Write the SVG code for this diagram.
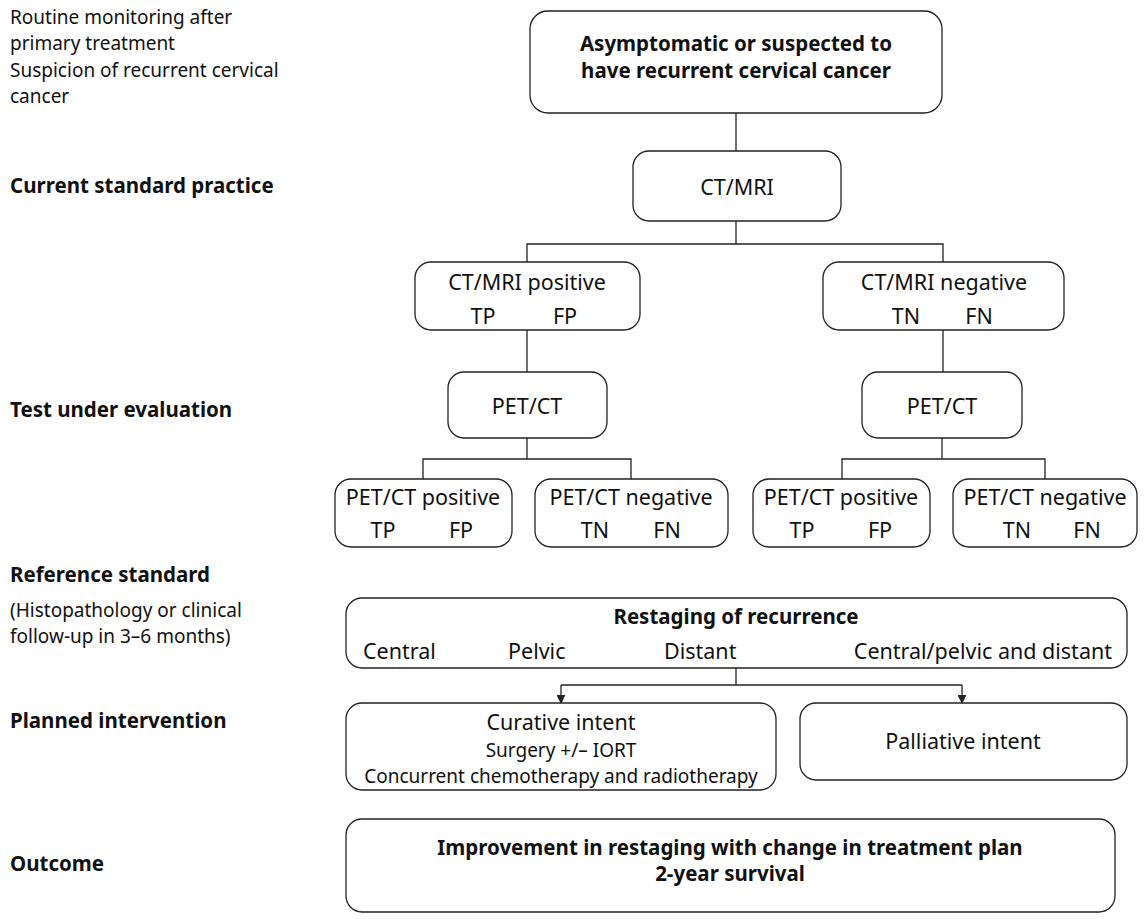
<svg xmlns="http://www.w3.org/2000/svg" width="1144" height="919" viewBox="0 0 1144 919">
<style>
text{font-family:"Noto Sans","Open Sans","Liberation Sans",sans-serif;fill:#111;font-size:21.5px}
.b{font-weight:bold;font-size:20.5px}
.c{text-anchor:middle}
.s{font-size:19px}
.l{font-size:19px}
rect{fill:#fff;stroke:#222;stroke-width:1.3}
.con line,.con path{stroke:#222;stroke-width:1.3;fill:none}
</style>
<defs>
<marker id="ah" viewBox="0 0 10 10" refX="9" refY="5" markerWidth="9" markerHeight="9" markerUnits="userSpaceOnUse" orient="auto">
<path d="M0,0 L10,5 L0,10 z" fill="#222"/>
</marker>
</defs>
<g id="labels">
<text x="10" y="24" class="l">Routine monitoring after<tspan x="10" dy="26">primary treatment</tspan></text>
<text x="10" y="77" class="l">Suspicion of recurrent cervical<tspan x="10" dy="26">cancer</tspan></text>
<text x="10" y="193" class="b">Current standard practice</text>
<text x="10" y="417" class="b">Test under evaluation</text>
<text x="10" y="582" class="b">Reference standard</text>
<text x="10" y="617" class="l">(Histopathology or clinical<tspan x="10" dy="26">follow-up in 3–6 months)</tspan></text>
<text x="10" y="728" class="b">Planned intervention</text>
<text x="10" y="871" class="b">Outcome</text>
</g>
<g class="con" id="connectors">
<line x1="736" y1="113" x2="736" y2="151"/>
<path d="M736,221 V244 M527,262 V244 H943 V262"/>
<line x1="527" y1="330" x2="527" y2="372"/>
<line x1="943" y1="330" x2="943" y2="372"/>
<path d="M527,438 V459 M423,479 V459 H631 V479"/>
<path d="M942,438 V459 M842,479 V459 H1045 V479"/>
<path d="M736,668 V685 M561,685 H962"/>
<line x1="561" y1="685" x2="561" y2="703" marker-end="url(#ah)"/>
<line x1="962" y1="685" x2="962" y2="703" marker-end="url(#ah)"/>
</g>
<g id="n-top"><rect x="530" y="11" width="412" height="102" rx="18"/>
<text x="736" y="51" class="b c">Asymptomatic or suspected to<tspan x="736" dy="27">have recurrent cervical cancer</tspan></text></g>
<g id="n-ctmri"><rect x="633" y="151" width="208" height="70" rx="16"/>
<text x="737" y="195" class="c">CT/MRI</text></g>
<g id="n-ctpos"><rect x="415" y="262" width="225" height="68" rx="16"/>
<text x="527" y="290" class="c">CT/MRI positive</text>
<text x="483" y="324" class="c">TP</text><text x="565" y="324" class="c">FP</text></g>
<g id="n-ctneg"><rect x="823" y="262" width="241" height="68" rx="16"/>
<text x="944" y="290" class="c">CT/MRI negative</text>
<text x="906" y="324" class="c">TN</text><text x="979" y="324" class="c">FN</text></g>
<g id="n-pet1"><rect x="448" y="372" width="159" height="66" rx="16"/>
<text x="527" y="414" class="c">PET/CT</text></g>
<g id="n-pet2"><rect x="862" y="372" width="160" height="66" rx="16"/>
<text x="942" y="414" class="c">PET/CT</text></g>
<g id="n-pp1"><rect x="335" y="479" width="177" height="68" rx="16"/>
<text x="423" y="505" class="c">PET/CT positive</text>
<text x="383" y="538" class="c">TP</text><text x="461" y="538" class="c">FP</text></g>
<g id="n-pn1"><rect x="535" y="479" width="193" height="68" rx="16"/>
<text x="631" y="505" class="c">PET/CT negative</text>
<text x="595" y="538" class="c">TN</text><text x="667" y="538" class="c">FN</text></g>
<g id="n-pp2"><rect x="753" y="479" width="177" height="68" rx="16"/>
<text x="841" y="505" class="c">PET/CT positive</text>
<text x="802" y="538" class="c">TP</text><text x="880" y="538" class="c">FP</text></g>
<g id="n-pn2"><rect x="953" y="479" width="184" height="68" rx="16"/>
<text x="1045" y="505" class="c">PET/CT negative</text>
<text x="1017" y="538" class="c">TN</text><text x="1087" y="538" class="c">FN</text></g>
<g id="n-restage"><rect x="346" y="598" width="781" height="70" rx="16"/>
<text x="736" y="624" class="b c">Restaging of recurrence</text>
<text x="363" y="659">Central</text>
<text x="508" y="659">Pelvic</text>
<text x="664" y="659">Distant</text>
<text x="1112" y="659" style="text-anchor:end">Central/pelvic and distant</text></g>
<g id="n-curative"><rect x="346" y="703" width="430" height="87" rx="16"/>
<text x="561" y="730" class="c">Curative intent</text>
<text x="561" y="757" class="c s">Surgery +/– IORT<tspan x="561" dy="26">Concurrent chemotherapy and radiotherapy</tspan></text></g>
<g id="n-palliative"><rect x="800" y="703" width="327" height="77" rx="16"/>
<text x="963" y="749" class="c">Palliative intent</text></g>
<g id="n-outcome"><rect x="346" y="819" width="769" height="93" rx="16"/>
<text x="730" y="855" class="b c">Improvement in restaging with change in treatment plan<tspan x="730" dy="26">2-year survival</tspan></text></g>
</svg>
